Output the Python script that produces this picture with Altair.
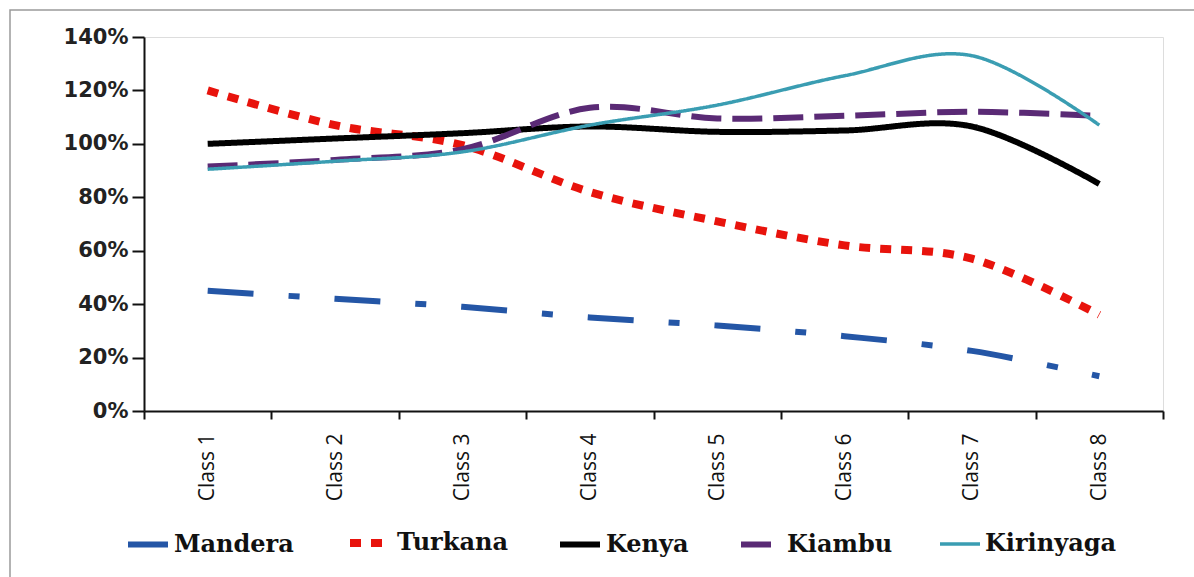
import altair as alt
import pandas as pd

classes = ["Class 1", "Class 2", "Class 3", "Class 4", "Class 5", "Class 6", "Class 7", "Class 8"]
series_names = ["Mandera", "Turkana", "Kenya", "Kiambu", "Kirinyaga"]

mandera = [0.45, 0.42, 0.39, 0.35, 0.32, 0.28, 0.225, 0.13]
turkana = [1.20, 1.07, 0.995, 0.82, 0.71, 0.62, 0.57, 0.36]
kenya = [1.00, 1.02, 1.04, 1.065, 1.045, 1.05, 1.065, 0.85]
kiambu = [0.915, 0.94, 0.98, 1.135, 1.095, 1.105, 1.12, 1.105]
kirinyaga = [0.905, 0.935, 0.97, 1.07, 1.145, 1.255, 1.33, 1.07]

colors = ["#2456a6", "#e8130c", "#000000", "#5a2a75", "#3a9db2"]
dashes = [[46, 35, 11, 35], [11, 10], [1, 0], [30, 11], [1, 0]]
widths = [6, 8, 6, 6, 3.5]

values = [mandera, turkana, kenya, kiambu, kirinyaga]
rows = []
for name, vals in zip(series_names, values):
    for c, v in zip(classes, vals):
        rows.append({"Class": c, "Series": name, "Value": v})
df = pd.DataFrame(rows)

lines = alt.Chart(df).mark_line(interpolate="cardinal", strokeCap="butt").encode(
    x=alt.X("Class:N", sort=classes, title=None,
            scale=alt.Scale(type="band", paddingInner=0, paddingOuter=0),
            axis=alt.Axis(tickBand="extent", labelAngle=270, labelAlign="right",
                          labelBaseline="middle", labelFont="Open Sans", labelFontSize=21,
                          labelColor="#111", labelPadding=14, tickSize=8, tickWidth=2,
                          tickColor="#111", domainColor="#111", domainWidth=2)),
    y=alt.Y("Value:Q", title=None,
            scale=alt.Scale(domain=[0, 1.4], nice=False),
            axis=alt.Axis(format=".0%", values=[0, 0.2, 0.4, 0.6, 0.8, 1.0, 1.2, 1.4],
                          grid=False, labelFont="DejaVu Sans", labelFontWeight="bold",
                          labelFontSize=21, labelColor="#222", labelPadding=4,
                          tickSize=12, tickWidth=2, tickColor="#111",
                          domainColor="#111", domainWidth=2)),
    color=alt.Color("Series:N", sort=series_names,
                    scale=alt.Scale(domain=series_names, range=colors),
                    legend=alt.Legend(title=None, orient="none", direction="horizontal",
                                      legendX=-19, legendY=482, symbolType="stroke",
                                      symbolSize=1600, labelFont="DejaVu Serif",
                                      labelFontWeight="bold", labelFontSize=24,
                                      labelColor="#111", columnPadding=40, labelOffset=3)),
    strokeDash=alt.StrokeDash("Series:N", sort=series_names,
                              scale=alt.Scale(domain=series_names, range=dashes)),
    strokeWidth=alt.StrokeWidth("Series:N", sort=series_names,
                                scale=alt.Scale(type="ordinal", domain=series_names, range=widths)),
    order=alt.Order("Class:N"),
)

border = alt.Chart(pd.DataFrame({"a": [0]})).mark_rect(
    fill=None, stroke="#9a9a9a", strokeWidth=1.5
).encode(
    x=alt.value(-134), x2=alt.value(1080), y=alt.value(-27), y2=alt.value(560)
)

chart = alt.layer(border, lines).properties(
    width=1019, height=374,
    padding={"left": 144, "top": 37, "right": 31, "bottom": 166},
    autosize=alt.AutoSizeParams(type="none"),
).configure_view(stroke="#c8c8c8", strokeWidth=1).configure(background="white")

chart.save("out.html", embed_options={"renderer": "svg", "actions": False})
